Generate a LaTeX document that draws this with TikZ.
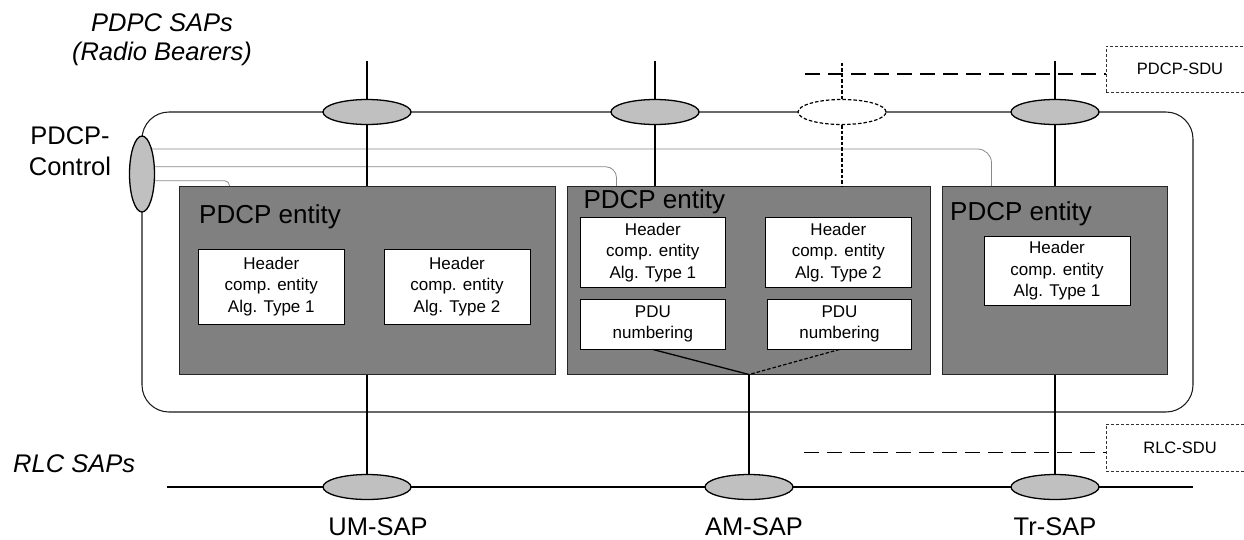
\documentclass[tikz,border=0pt]{standalone}
\usepackage{fontspec}
\setmainfont{Liberation Sans}
\usetikzlibrary{shapes.geometric,backgrounds,calc}
\definecolor{sapgray}{HTML}{C0C0C0}
\definecolor{entgray}{HTML}{808080}
\definecolor{ctrlgray}{HTML}{8A8A8A}
\newcommand\dgbig{\fontsize{25.5}{31}\selectfont}
\newcommand\dgent{\fontsize{26}{31}\selectfont}
\newcommand\dgsmall{\fontsize{17}{21.5}\selectfont}
\newcommand\dgsdu{\fontsize{16.5}{20}\selectfont}
\tikzset{
  sap/.style={ellipse, draw=black, line width=1.3pt, fill=sapgray, minimum width=88pt, minimum height=25pt, inner sep=0pt},
  sapdash/.style={ellipse, draw=black, line width=1.2pt, dash pattern=on 3.5pt off 2pt, fill=white, minimum width=88pt, minimum height=25pt, inner sep=0pt},
  ctlsap/.style={ellipse, draw=black, line width=1.3pt, fill=sapgray, minimum width=25pt, minimum height=76pt, inner sep=0pt},
  entity/.style={draw=black!85, line width=1pt, fill=entgray, inner sep=0pt},
  hbox/.style={draw=black, line width=0.9pt, fill=white, inner sep=0pt, align=center, font=\dgsmall},
  sdubox/.style={draw=black!80, line width=0.8pt, dash pattern=on 3pt off 2pt, fill=white, inner sep=0pt, font=\dgsdu},
  frame/.style={draw=black!90, line width=1.05pt, rounded corners=27pt, inner sep=0pt},
  wire/.style={draw=black, line width=1.3pt},
  finedash/.style={draw=black, line width=1.2pt, dash pattern=on 3.5pt off 2pt},
  longdash/.style={draw=black, line width=1.4pt, dash pattern=on 15pt off 8pt},
  ctrl/.style={draw=ctrlgray, line width=0.8pt},
  lbl/.style={inner sep=0pt, font=\dgbig},
  ent/.style={inner sep=0pt, font=\dgent},
}
\begin{document}
\begin{tikzpicture}[x=1pt,y=-1pt]
\useasboundingbox (0,0) rectangle (1244,539);
\clip (0,0) rectangle (1244,539);

% labels
\node[lbl, anchor=base] (lsap) at (162,31.7) {\itshape PDPC SAPs};
\node[lbl, anchor=base] (lrb) at (162,60.5) {\itshape (Radio Bearers)};
\node[lbl, anchor=base west] (lrlc) at (13,472.7) {\itshape RLC SAPs};
\node[lbl, align=center] (lctl) at (70,151.5) {PDCP-\\Control};
\node[lbl, anchor=base] (lum) at (378,535) {UM-SAP};
\node[lbl, anchor=base] (lam) at (754,535) {AM-SAP};
\node[lbl, anchor=base] (ltr) at (1055,535) {Tr-SAP};

% PDCP entities
\node[entity, minimum width=375.7pt, minimum height=188pt] (b1) at (367.15,280) {};
\node[entity, minimum width=362.7pt, minimum height=187.3pt] (b2) at (748.65,280.35) {};
\node[entity, minimum width=225pt, minimum height=187.3pt] (b3) at (1055.2,280.35) {};
\node[ent, anchor=base west] (e1) at (199,223) {PDCP entity};
\node[ent, anchor=base west] (e2) at (583.3,208.3) {PDCP entity};
\node[ent, anchor=base west] (e3) at (950,220) {PDCP entity};

% inner boxes
\node[hbox, minimum width=146pt, minimum height=75pt] (h11) at (271.3,286.5) {Header\\comp. entity\\Alg. Type 1};
\node[hbox, minimum width=146pt, minimum height=75pt] (h12) at (457,286.5) {Header\\comp. entity\\Alg. Type 2};
\node[hbox, minimum width=145.7pt, minimum height=69.6pt] (h21) at (652.85,252.5) {Header\\comp. entity\\Alg. Type 1};
\node[hbox, minimum width=146.7pt, minimum height=69.6pt] (h22) at (838.35,252.5) {Header\\comp. entity\\Alg. Type 2};
\node[hbox, minimum width=145.7pt, minimum height=49.7pt] (p1) at (652.85,324.15) {PDU\\numbering};
\node[hbox, minimum width=144.4pt, minimum height=49.7pt] (p2) at (839.5,324.15) {PDU\\numbering};
\node[hbox, minimum width=146pt, minimum height=68.3pt] (h31) at (1057,270.85) {Header\\comp. entity\\Alg. Type 1};

% SAP ellipses
\node[sap] (t1) at (367,112) {};
\node[sap] (t2) at (655,112) {};
\node[sapdash] (t3) at (842,112) {};
\node[sap] (t4) at (1055,112) {};
\node[sap] (r1) at (367,487) {};
\node[sap] (r2) at (749,487) {};
\node[sap] (r3) at (1055,487) {};
\node[ctlsap] (ctl) at (142,174) {};

% SDU boxes
\node[sdubox, minimum width=148pt, minimum height=46pt] (sdu1) at (1180,69) {PDCP-SDU};
\node[sdubox, minimum width=148pt, minimum height=47pt] (sdu2) at (1180,447.5) {RLC-SDU};

% free ends
\coordinate (u0) at (367,61);
\coordinate (a0) at (655,61);
\coordinate (d0) at (842,62.7);
\coordinate (x0) at (1055,61);
\coordinate (l0) at (167,487);
\coordinate (l1) at (1193,487);
\coordinate (s1) at (805,74);
\coordinate (s2) at (804,452.3);
\coordinate (c1) at (142,149);
\coordinate (c2) at (142,166.7);
\coordinate (c3) at (142,180.7);
\coordinate (m) at (r2.north |- b2.south);

\begin{pgfonlayer}{background}
  \fill[white] (0,0) rectangle (1244,539);
  \node[frame, minimum width=1051pt, minimum height=300pt] (fr) at (667.5,262) {};
  \draw[wire] (l0) -- (l1);
  \draw[ctrl, rounded corners=14pt] (c1) -| ($(b3.north west)+(49.3,0)$);
  \draw[ctrl, rounded corners=11pt] (c2) -| ($(b2.north west)+(49.7,0)$);
  \draw[ctrl, rounded corners=5pt] (c3) -| ($(b1.north west)+(50.7,0)$);
\end{pgfonlayer}

% vertical connectors
\draw[wire] (u0) -- (t1.north);
\draw[wire] (t1.south) -- (t1.south |- b1.north);
\draw[wire] (t1.south |- b1.south) -- (r1.north);
\draw[wire] (a0) -- (t2.north);
\draw[wire] (t2.south) -- (t2.south |- b2.north);
\draw[finedash] (d0) -- (t3.north);
\draw[finedash] (t3.south) -- (t3.south |- b2.north);
\draw[wire] (x0) -- (t4.north);
\draw[wire] (t4.south) -- (t4.south |- b3.north);
\draw[wire] (t4.south |- b3.south) -- (r3.north);
\draw[wire] (p1.south) -- (m);
\draw[finedash] (p2.south) -- (m);
\draw[wire] (m) -- (r2.north);

% dashed SDU lines
\draw[longdash] (s1) -- (s1 -| sdu1.west);
\draw[longdash] (s2) -- (s2 -| sdu2.west);
\end{tikzpicture}
\end{document}
